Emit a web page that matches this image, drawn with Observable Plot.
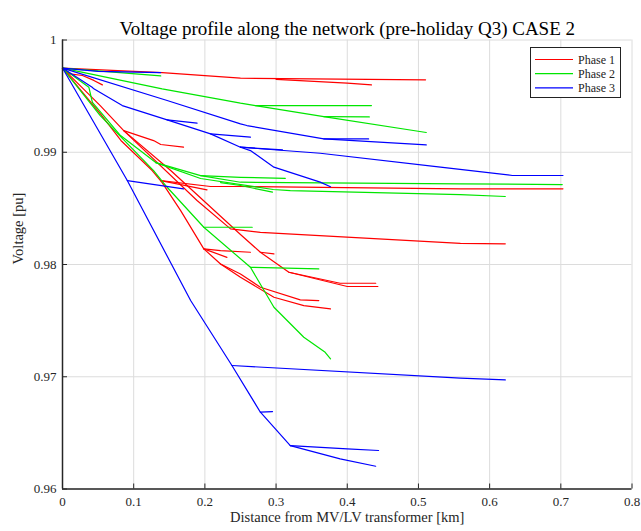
<!DOCTYPE html>
<html><head><meta charset="utf-8">
<script src="https://cdn.jsdelivr.net/npm/d3@7"></script>
<script src="https://cdn.jsdelivr.net/npm/@observablehq/plot@0.6"></script>
<style>
body{margin:0;background:#fff;}
#wrap{position:relative;width:641px;height:531px;overflow:hidden;}
#legend{position:absolute;left:530px;top:47px;}
</style></head><body><div id="wrap"></div>
<script>
const title = "Voltage profile along the network (pre-holiday Q3) CASE 2";
const xLabel = "Distance from MV/LV transformer [km]";
const yLabel = "Voltage [pu]";
const phases = ["Phase 1", "Phase 2", "Phase 3"];
const colors = ["#ff0000", "#00e600", "#0000ff"];
const xTicks = [0, 0.1, 0.2, 0.3, 0.4, 0.5, 0.6, 0.7, 0.8];
const yTicks = [0.96, 0.97, 0.98, 0.99, 1];

// Each entry: one branch of the feeder, as [distance km, voltage pu] points
const phase1Lines = [
  [[0,0.9975],[0.14,0.9971],[0.25,0.9966],[0.51,0.99645]],
  [[0.30,0.9965],[0.40,0.99615],[0.434,0.9960]],
  [[0,0.9975],[0.008,0.9970],[0.028,0.99684],[0.044,0.9964],[0.056,0.9960]],
  [[0,0.9975],[0.053,0.99416],[0.086,0.99193],[0.152,0.98837],[0.25,0.98267],[0.278,0.98109],[0.318,0.97931],[0.39,0.97833],[0.44,0.97833]],
  [[0.318,0.97931],[0.40,0.97804],[0.443,0.97804]],
  [[0.278,0.98109],[0.297,0.98095]],
  [[0.086,0.99193],[0.128,0.99104],[0.138,0.99069],[0.17,0.99045]],
  [[0.086,0.99193],[0.189,0.9857],[0.236,0.98317],[0.278,0.98287],[0.559,0.98189],[0.622,0.98184]],
  [[0,0.9975],[0.053,0.99345],[0.082,0.99105],[0.126,0.98837],[0.14,0.9873],[0.166,0.9848],[0.1985,0.98139],[0.222,0.98005],[0.25,0.97916],[0.278,0.97797],[0.334,0.97685],[0.36,0.97679]],
  [[0.1985,0.98139],[0.222,0.98124],[0.264,0.98109]],
  [[0.1985,0.98139],[0.231,0.98064]],
  [[0.222,0.98005],[0.25,0.97886],[0.297,0.97708],[0.339,0.97634],[0.3765,0.97604]],
  [[0.138,0.98748],[0.208,0.98695],[0.25,0.98695],[0.559,0.98674],[0.703,0.98674]],
  [[0.138,0.98748],[0.203,0.98665]]
];
const phase2Lines = [
  [[0,0.9975],[0.138,0.9968]],
  [[0,0.9975],[0.14,0.99565],[0.25,0.99437],[0.271,0.99416],[0.367,0.99318],[0.511,0.99176]],
  [[0.271,0.99416],[0.434,0.99416]],
  [[0.367,0.99318],[0.431,0.99315]],
  [[0,0.9975],[0.037,0.9958],[0.042,0.99445],[0.0815,0.99149],[0.131,0.98908],[0.194,0.98792],[0.25,0.98733],[0.559,0.98719],[0.702,0.98712]],
  [[0.131,0.98908],[0.194,0.98766],[0.296,0.98668],[0.32,0.98659],[0.559,0.98623],[0.622,0.98606]],
  [[0.194,0.98792],[0.25,0.98777],[0.313,0.98768]],
  [[0.222,0.9873],[0.25,0.98704],[0.295,0.98644]],
  [[0,0.9975],[0.053,0.99327],[0.128,0.98837],[0.147,0.98688],[0.1985,0.98332],[0.264,0.97975],[0.297,0.97619],[0.339,0.97352],[0.369,0.97218],[0.3765,0.97159]],
  [[0.1985,0.98332],[0.2665,0.98332]],
  [[0.264,0.97975],[0.36,0.97961]]
];
const phase3Lines = [
  [[0,0.9975],[0.05,0.9972],[0.138,0.9971]],
  [[0,0.9975],[0.147,0.99461],[0.25,0.99253],[0.259,0.99238],[0.367,0.99119],[0.43,0.99119]],
  [[0.367,0.99119],[0.511,0.99066]],
  [[0,0.9975],[0.0417,0.99579],[0.044,0.99565],[0.084,0.99416],[0.147,0.99289],[0.208,0.99164],[0.25,0.99045]],
  [[0.147,0.99289],[0.189,0.99259]],
  [[0.208,0.99164],[0.264,0.99134]],
  [[0.25,0.99045],[0.309,0.99022]],
  [[0.25,0.99045],[0.362,0.98991],[0.531,0.98867],[0.632,0.98793],[0.703,0.98793]],
  [[0.25,0.99045],[0.264,0.99015],[0.297,0.98867],[0.362,0.98734],[0.3765,0.98693]],
  [[0,0.9975],[0.091,0.98748],[0.18,0.97679],[0.238,0.971],[0.278,0.96684],[0.32,0.96387]],
  [[0.091,0.98748],[0.17,0.98674]],
  [[0.278,0.96684],[0.295,0.9669]],
  [[0.238,0.971],[0.559,0.96987],[0.622,0.96972]],
  [[0.32,0.96387],[0.40,0.96358],[0.444,0.96343]],
  [[0.32,0.96387],[0.39,0.96269],[0.44,0.96203]]
];

const data = [];
[phase1Lines, phase2Lines, phase3Lines].forEach((lines, i) =>
  lines.forEach((pts, j) =>
    pts.forEach(([km, pu]) => data.push({phase: phases[i], id: i + "-" + j, km, pu}))));

const fmt = d => d3.format("~g")(d);
const axisColor = "#262626";

const chart = Plot.plot({
  width: 641, height: 531,
  marginTop: 39.5, marginLeft: 62, marginRight: 9.5, marginBottom: 42.5,
  x: {domain: [0, 0.8]},
  y: {domain: [0.96, 1]},
  color: {domain: phases, range: colors},
  style: {fontFamily: "'Liberation Serif', serif", fontSize: "13px", background: "white", color: axisColor},
  marks: [
    Plot.gridX(xTicks, {stroke: "#dcdcdc", strokeOpacity: 1}),
    Plot.gridY(yTicks, {stroke: "#dcdcdc", strokeOpacity: 1}),
    Plot.line(data, {x: "km", y: "pu", z: "id", stroke: "phase", strokeWidth: 1.2}),
    Plot.ruleX([0], {stroke: axisColor, strokeWidth: 1.5}),
    Plot.ruleY([0.96], {stroke: axisColor, strokeWidth: 1.5}),
    Plot.axisX(xTicks, {tickSize: -5, text: null, label: null, stroke: axisColor}),
    Plot.axisY(yTicks, {tickSize: -5, text: null, label: null, stroke: axisColor}),
    Plot.axisX(xTicks, {tickSize: 0, tickPadding: 8, label: null, tickFormat: fmt, fill: axisColor, fontSize: 13}),
    Plot.axisY(yTicks, {tickSize: 0, tickPadding: 6, label: null, tickFormat: fmt, fill: axisColor, fontSize: 13}),
    Plot.text([title], {frameAnchor: "top", dy: -18.5, fontSize: 19, fill: "#000"}),
    Plot.text([xLabel], {frameAnchor: "bottom", dy: 33, fontSize: 14.5, fill: axisColor}),
    Plot.text([yLabel], {frameAnchor: "left", dx: -44, rotate: -90, fontSize: 14.5, fill: axisColor})
  ]
});
const wrap = document.getElementById("wrap");
wrap.appendChild(chart);

// Legend box (MATLAB style)
const lg = d3.select(wrap).append("svg").attr("id", "legend")
  .attr("width", 91).attr("height", 51);
lg.append("rect").attr("x", 0.5).attr("y", 0.5).attr("width", 90).attr("height", 50)
  .attr("fill", "white").attr("stroke", "#222").attr("stroke-width", 1);
phases.forEach((p, i) => {
  const cy = 12.5 + i * 14.2;
  lg.append("line").attr("x1", 5).attr("x2", 43).attr("y1", cy).attr("y2", cy)
    .attr("stroke", colors[i]).attr("stroke-width", 1.2);
  lg.append("text").attr("x", 48).attr("y", cy).attr("dy", "0.35em")
    .attr("font-family", "'Liberation Serif', serif").attr("font-size", 12)
    .attr("fill", "#222").text(p);
});
</script>
</body></html>
